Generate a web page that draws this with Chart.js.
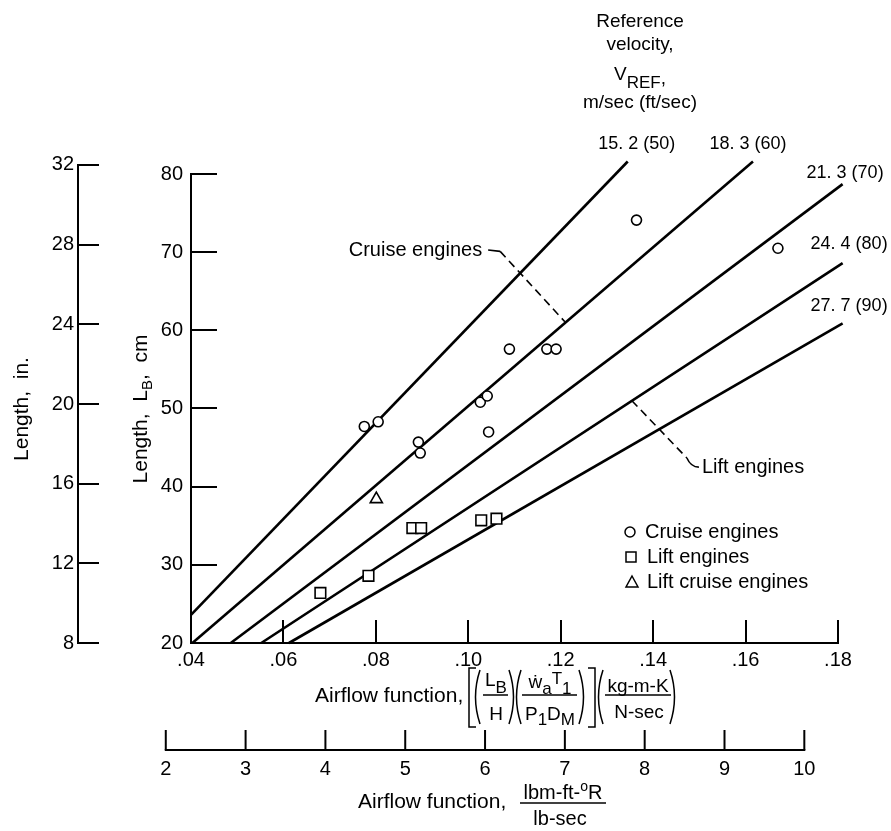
<!DOCTYPE html>
<html>
<head>
<meta charset="utf-8">
<script src="https://cdn.jsdelivr.net/npm/chart.js@4/dist/chart.umd.min.js"></script>
<style>
html, body { margin: 0; padding: 0; background: #fff; }
</style>
</head>
<body>
<canvas id="myChart" width="891" height="831"></canvas>
<script>
// reference velocity lines (x, length in cm)
const velocityLabels = ['15. 2 (50)', '18. 3 (60)', '21. 3 (70)', '24. 4 (80)', '27. 7 (90)'];
const lineStartX = [0.04, 0.0403, 0.0486, 0.0552, 0.0612];
const lineStartY = [23.6, 20, 20, 20, 20];
const lineEndX = [0.1345, 0.1616, 0.181, 0.181, 0.181];
const lineEndY = [81.6, 81.6, 78.7, 68.6, 60.9];

// measured engines
const cruiseX = [0.0775, 0.0805, 0.0892, 0.0896, 0.1026, 0.1041, 0.1044, 0.1089, 0.117, 0.119, 0.1364, 0.167];
const cruiseY = [47.7, 48.3, 45.7, 44.3, 50.8, 51.6, 47.0, 57.6, 57.6, 57.6, 74.1, 70.5];
const liftX = [0.068, 0.0784, 0.0879, 0.0898, 0.1028, 0.1061];
const liftY = [26.4, 28.6, 34.7, 34.7, 35.7, 35.9];
const liftCruiseX = [0.0801];
const liftCruiseY = [38.4];

// axes
const xTicks = [0.04, 0.06, 0.08, 0.10, 0.12, 0.14, 0.16, 0.18];
const cmTicks = [20, 30, 40, 50, 60, 70, 80];
const inTicks = [8, 12, 16, 20, 24, 28, 32];
const x2Ticks = [2, 3, 4, 5, 6, 7, 8, 9, 10];
const toEnglish = 57.9; // kg-m-K/N-sec -> lbm-ft-R/lb-sec

const F = '"Liberation Sans", "DejaVu Sans", Arial, sans-serif';

function pts(xs, ys) { return xs.map((x, i) => ({ x: x, y: ys[i] })); }

function seg(c, x1, y1, x2, y2) {
    c.beginPath(); c.moveTo(x1, y1); c.lineTo(x2, y2); c.stroke();
}

// draw a run of text pieces, each with its own size and vertical shift
function rich(c, parts, x, y, align) {
    let w = 0;
    parts.forEach(p => { c.font = p.s + 'px ' + F; w += c.measureText(p.t).width; });
    let cx = align === 'center' ? x - w / 2 : (align === 'right' ? x - w : x);
    c.textAlign = 'left';
    c.textBaseline = 'alphabetic';
    parts.forEach(p => {
        c.font = p.s + 'px ' + F;
        c.fillText(p.t, cx, y + (p.dy || 0));
        cx += c.measureText(p.t).width;
    });
}

function paren(c, x, top, bot, open) {
    const mid = (top + bot) / 2;
    c.beginPath();
    if (open) { c.moveTo(x + 6, top); c.quadraticCurveTo(x - 3, mid, x + 6, bot); }
    else { c.moveTo(x, top); c.quadraticCurveTo(x + 9, mid, x, bot); }
    c.stroke();
}

let lineSets = lineStartX.map((x, i) => ({
    type: 'line',
    label: velocityLabels[i],
    data: [{ x: x, y: lineStartY[i] }, { x: lineEndX[i], y: lineEndY[i] }],
    borderColor: '#000',
    borderWidth: 2.6,
    pointRadius: 0,
    clip: false,
    order: 2
}));

const extras = {
    id: 'extras',
    afterDraw(chart) {
        const c = chart.ctx;
        const xs = chart.scales.x, ys = chart.scales.y, yi = chart.scales.yin, x2 = chart.scales.x2;
        const P = (x, y) => [xs.getPixelForValue(x), ys.getPixelForValue(y)];
        c.save();
        c.fillStyle = '#000';
        c.strokeStyle = '#000';

        // vertical axis lines, from first to last tick
        c.lineWidth = 2;
        seg(c, ys.right, ys.getPixelForValue(cmTicks[0]) + 1, ys.right, ys.getPixelForValue(cmTicks[cmTicks.length - 1]) - 1);
        seg(c, yi.right, yi.getPixelForValue(inTicks[0]) + 1, yi.right, yi.getPixelForValue(inTicks[inTicks.length - 1]) - 1);

        // axis titles on the left
        c.save(); c.translate(28, 409); c.rotate(-Math.PI / 2);
        rich(c, [{ t: 'Length,  in.', s: 21 }], 0, 0, 'center');
        c.restore();
        c.save(); c.translate(147, 409); c.rotate(-Math.PI / 2);
        rich(c, [{ t: 'Length,  L', s: 21 }, { t: 'B', s: 15, dy: 5 }, { t: ',  cm', s: 21 }], 0, 0, 'center');
        c.restore();

        // second x axis in English units
        const yb = chart.chartArea.bottom + 107;
        c.lineWidth = 2;
        seg(c, x2.getPixelForValue(x2Ticks[0]) - 1, yb, x2.getPixelForValue(x2Ticks[x2Ticks.length - 1]) + 1, yb);
        c.font = '20px ' + F;
        c.textAlign = 'center';
        c.textBaseline = 'middle';
        x2Ticks.forEach(v => {
            const px = x2.getPixelForValue(v);
            seg(c, px, yb, px, yb - 20);
            c.fillText(String(v), px, yb + 19);
        });

        // lower title
        rich(c, [{ t: 'Airflow function,', s: 21 }], 358, 808);
        c.lineWidth = 1.5;
        seg(c, 520, 803, 606, 803);
        rich(c, [{ t: 'lbm-ft-', s: 20 }, { t: 'o', s: 14, dy: -8 }, { t: 'R', s: 20 }], 563, 799, 'center');
        rich(c, [{ t: 'lb-sec', s: 20 }], 560, 825, 'center');

        // main x title
        rich(c, [{ t: 'Airflow function,', s: 21 }], 315, 702);
        c.lineWidth = 1.5;
        c.beginPath(); c.moveTo(476, 668); c.lineTo(469, 668); c.lineTo(469, 727); c.lineTo(476, 727); c.stroke();
        c.beginPath(); c.moveTo(588, 668); c.lineTo(595, 668); c.lineTo(595, 727); c.lineTo(588, 727); c.stroke();
        paren(c, 474, 670, 724, true);
        paren(c, 509, 670, 724, false);
        paren(c, 515, 670, 724, true);
        paren(c, 579, 670, 724, false);
        paren(c, 597, 670, 724, true);
        paren(c, 670, 670, 724, false);
        seg(c, 483, 695, 508, 695);
        seg(c, 522, 695, 577, 695);
        seg(c, 605, 695, 671, 695);
        rich(c, [{ t: 'L', s: 19 }, { t: 'B', s: 17, dy: 7 }], 496, 686, 'center');
        rich(c, [{ t: 'H', s: 19 }], 496, 720, 'center');
        rich(c, [{ t: '\u1e87', s: 19 }, { t: 'a', s: 17, dy: 6 }, { t: 'T', s: 17, dy: -4 }, { t: '1', s: 17, dy: 6 }], 550, 688, 'center');
        rich(c, [{ t: 'P', s: 19 }, { t: '1', s: 17, dy: 5 }, { t: 'D', s: 19 }, { t: 'M', s: 17, dy: 5 }], 550, 720, 'center');
        rich(c, [{ t: 'kg-m-K', s: 19 }], 638, 692, 'center');
        rich(c, [{ t: 'N-sec', s: 19 }], 639, 718, 'center');

        // velocity header and line labels
        rich(c, [{ t: 'Reference', s: 19 }], 640, 27, 'center');
        rich(c, [{ t: 'velocity,', s: 19 }], 640, 50, 'center');
        rich(c, [{ t: 'V', s: 19 }, { t: 'REF', s: 17, dy: 8 }, { t: ',', s: 19, dy: 4 }], 640, 80, 'center');
        rich(c, [{ t: 'm/sec (ft/sec)', s: 19 }], 640, 108, 'center');
        const shift = [[9, -12, 'center'], [-5, -12, 'center'], [41, -6, 'right'], [45, -14, 'right'], [45, -12, 'right']];
        velocityLabels.forEach((s, i) => {
            const e = P(lineEndX[i], lineEndY[i]);
            rich(c, [{ t: s, s: 18 }], e[0] + shift[i][0], e[1] + shift[i][1], shift[i][2]);
        });

        // leaders
        c.lineWidth = 1.6;
        let a = P(0.1043, 70.27), b = P(0.1069, 70.1), d = P(0.1209, 61.1);
        seg(c, a[0], a[1], b[0], b[1]);
        c.setLineDash([8, 5]);
        seg(c, b[0], b[1], d[0], d[1]);
        c.setLineDash([]);
        c.font = '20px ' + F; c.textAlign = 'right'; c.textBaseline = 'middle';
        c.fillText('Cruise engines', a[0] - 6, a[1]);

        let e1 = P(0.1354, 51.0), e2 = P(0.1473, 43.67), e3 = P(0.1499, 42.5);
        c.setLineDash([8, 5]);
        seg(c, e1[0], e1[1], e2[0], e2[1]);
        c.setLineDash([]);
        c.beginPath(); c.moveTo(e2[0], e2[1]); c.quadraticCurveTo(e2[0] + 4, e3[1], e3[0], e3[1]); c.stroke();
        c.textAlign = 'left';
        c.fillText('Lift engines', e3[0] + 3, e3[1]);

        // legend
        c.lineWidth = 1.5;
        c.beginPath(); c.arc(630, 532, 5, 0, Math.PI * 2); c.stroke();
        c.strokeRect(626, 552, 10, 10);
        c.beginPath(); c.moveTo(632, 576); c.lineTo(638, 587); c.lineTo(626, 587); c.closePath(); c.stroke();
        c.fillText('Cruise engines', 645, 532);
        c.fillText('Lift engines', 647, 557);
        c.fillText('Lift cruise engines', 647, 582);

        c.restore();
    }
};

let ctx = document.getElementById('myChart').getContext('2d');

let chart = new Chart(ctx, {
    type: 'scatter',
    data: {
        datasets: lineSets.concat([
            {
                label: 'Cruise engines',
                data: pts(cruiseX, cruiseY),
                pointStyle: 'circle', pointRadius: 5,
                backgroundColor: '#fff', borderColor: '#000', borderWidth: 1.6,
                order: 1
            },
            {
                label: 'Lift engines',
                data: pts(liftX, liftY),
                pointStyle: 'rect', pointRadius: 7.5,
                backgroundColor: '#fff', borderColor: '#000', borderWidth: 1.6,
                order: 1
            },
            {
                label: 'Lift cruise engines',
                data: pts(liftCruiseX, liftCruiseY),
                pointStyle: 'triangle', pointRadius: 7,
                backgroundColor: '#fff', borderColor: '#000', borderWidth: 1.6,
                order: 1
            }
        ])
    },
    options: {
        responsive: false,
        animation: false,
        layout: { padding: { top: 160, right: 53, left: 0, bottom: 0 } },
        plugins: { legend: { display: false }, tooltip: { enabled: false } },
        scales: {
            x: {
                type: 'linear', position: 'bottom', min: 0.04, max: 0.18,
                afterBuildTicks: s => { s.ticks = xTicks.map(v => ({ value: v })); },
                afterFit: s => { s.height = 188; },
                grid: { drawOnChartArea: false, drawTicks: true, tickLength: -23, color: '#000', lineWidth: 2 },
                border: { display: true, color: '#000', width: 2 },
                ticks: {
                    padding: 28, color: '#000', autoSkip: false, maxRotation: 0, minRotation: 0,
                    font: { family: F, size: 20 },
                    callback: v => '.' + v.toFixed(2).split('.')[1]
                }
            },
            x2: {
                type: 'linear', axis: 'x', position: 'bottom', display: false,
                min: 0.04 * toEnglish, max: 0.18 * toEnglish
            },
            y: {
                type: 'linear', position: 'left', weight: 0, min: 20, max: 81.79,
                afterBuildTicks: s => { s.ticks = cmTicks.map(v => ({ value: v })); },
                afterFit: s => { s.width = 113; },
                grid: { drawOnChartArea: false, drawTicks: true, tickLength: -26, color: '#000', lineWidth: 2 },
                border: { display: false },
                ticks: { padding: 34, color: '#000', font: { family: F, size: 20 }, callback: v => String(v) }
            },
            yin: {
                type: 'linear', axis: 'y', position: 'left', weight: 1, min: 8, max: 32.25,
                afterBuildTicks: s => { s.ticks = inTicks.map(v => ({ value: v })); },
                afterFit: s => { s.width = 78; },
                grid: { drawOnChartArea: false, drawTicks: true, tickLength: -21, color: '#000', lineWidth: 2 },
                border: { display: false },
                ticks: { padding: 25, color: '#000', font: { family: F, size: 20 }, callback: v => String(v) }
            }
        }
    },
    plugins: [extras]
});
</script>
</body>
</html>
